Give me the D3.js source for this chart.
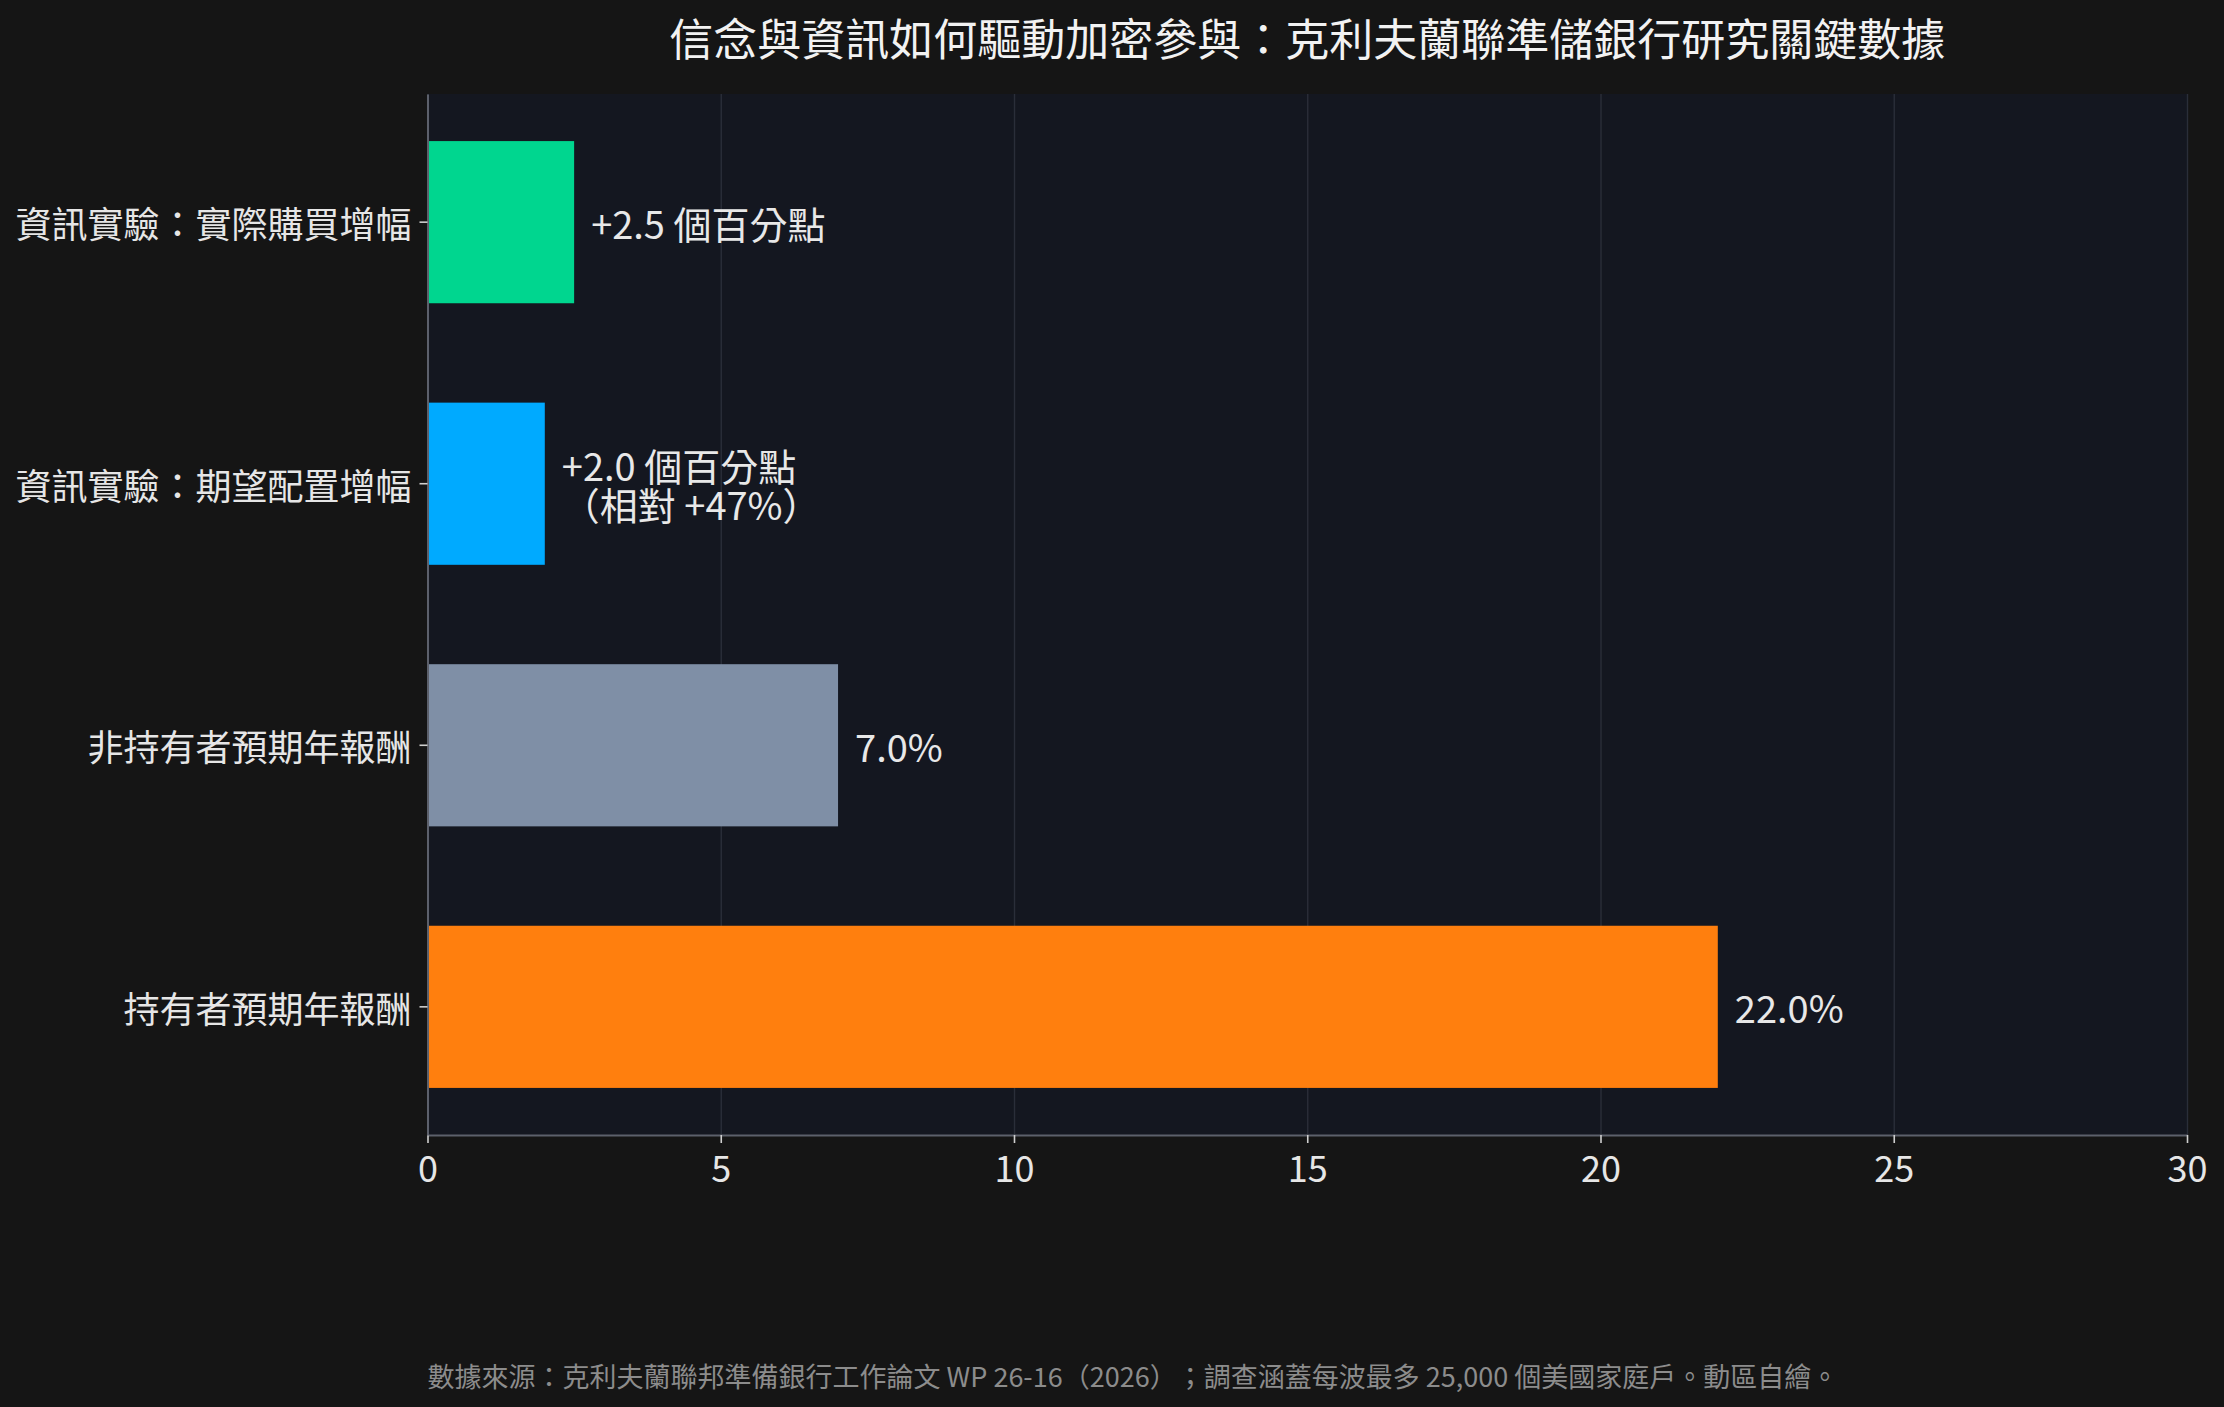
<!DOCTYPE html>
<html>
<head>
<meta charset="utf-8">
<script src="https://cdn.jsdelivr.net/npm/d3@7"></script>
<style>
  html, body { margin: 0; padding: 0; background: #151515; }
  svg { display: block; font-family: "Noto Sans CJK TC", "Noto Sans", sans-serif; text-spacing-trim: space-all; }
</style>
</head>
<body>
<div id="chart"></div>
<script>
// Chart data
const categories = [
    "資訊實驗：實際購買增幅",
    "資訊實驗：期望配置增幅",
    "非持有者預期年報酬",
    "持有者預期年報酬"
];
const values = [2.5, 2.0, 7.0, 22.0];
const valueLabels = [
    ["+2.5 個百分點"],
    ["+2.0 個百分點", "（相對 +47%）"],
    ["7.0%"],
    ["22.0%"]
];
const barColors = ["#00D68F", "#00AAFF", "#7F8FA6", "#FF7F0E"];
const xTicks = [0, 5, 10, 15, 20, 25, 30];

const title = "信念與資訊如何驅動加密參與：克利夫蘭聯準儲銀行研究關鍵數據";
const footer = "數據來源：克利夫蘭聯邦準備銀行工作論文 WP 26-16（2026）；調查涵蓋每波最多 25,000 個美國家庭戶。動區自繪。";

// Dimensions
const width = 2224, height = 1407;
const margin = { top: 94, right: 37, bottom: 272, left: 427.5 };
const innerW = width - margin.left - margin.right;
const innerH = height - margin.top - margin.bottom;

const svg = d3.select("#chart").append("svg")
    .attr("width", width)
    .attr("height", height);

svg.append("rect")
    .attr("width", width)
    .attr("height", height)
    .attr("fill", "#151515");

const g = svg.append("g")
    .attr("transform", `translate(${margin.left},${margin.top})`);

// Scales
const x = d3.scaleLinear().domain([0, 30]).range([0, innerW]);
const y = d3.scaleBand()
    .domain(categories)
    .range([0, innerH])
    .paddingInner(0.38)
    .paddingOuter(0.18);

// Plot background
g.append("rect")
    .attr("width", innerW)
    .attr("height", innerH)
    .attr("fill", "#141720");

// Vertical grid lines
g.append("g")
    .selectAll("line")
    .data(xTicks)
    .enter().append("line")
    .attr("x1", d => x(d) + 0.5)
    .attr("x2", d => x(d) + 0.5)
    .attr("y1", 0)
    .attr("y2", innerH)
    .attr("stroke", "#2a2e39")
    .attr("stroke-width", 1.4);

// Bars
g.append("g")
    .selectAll("rect")
    .data(values)
    .enter().append("rect")
    .attr("x", x(0))
    .attr("y", (d, i) => y(categories[i]))
    .attr("width", d => x(d) - x(0))
    .attr("height", y.bandwidth())
    .attr("fill", (d, i) => barColors[i]);

// Value labels (left aligned, multi-line centred on the bar)
const lineGap = 39;
const lbl = g.append("g")
    .selectAll("text")
    .data(values)
    .enter().append("text")
    .attr("x", d => x(d) + 17)
    .attr("y", (d, i) => y(categories[i]) + y.bandwidth() / 2)
    .attr("fill", "#e8e8e8")
    .style("font-size", "38px");

lbl.each(function(d, i) {
    const lines = valueLabels[i];
    const cy = y(categories[i]) + y.bandwidth() / 2;
    const t = d3.select(this);
    lines.forEach((s, k) => {
        t.append("tspan")
            .attr("x", x(d) + 17)
            .attr("y", cy + (k - (lines.length - 1) / 2) * lineGap)
            .attr("dominant-baseline", "central")
            .text(s);
    });
});

// X axis
const xAxis = g.append("g")
    .attr("transform", `translate(0,${innerH})`)
    .call(d3.axisBottom(x).tickValues(xTicks).tickSize(8).tickSizeOuter(0)
        .tickPadding(13).tickFormat(d3.format("d")));
xAxis.select(".domain").attr("stroke", "#5c606b").attr("stroke-width", 2);
xAxis.selectAll(".tick line").attr("stroke", "#cfcfcf").attr("stroke-width", 1.6);
xAxis.selectAll(".tick text")
    .attr("fill", "#e6e6e6")
    .style("font-size", "36px")
    .style("font-family", "'Noto Sans CJK TC', sans-serif");

// Y axis
const yAxis = g.append("g")
    .call(d3.axisLeft(y).tickSize(8).tickSizeOuter(0).tickPadding(8));
yAxis.select(".domain").attr("stroke", "#5c606b").attr("stroke-width", 2);
yAxis.selectAll(".tick line").attr("stroke", "#cfcfcf").attr("stroke-width", 1.6);
yAxis.selectAll(".tick text")
    .attr("fill", "#e6e6e6")
    .attr("dy", null)
    .attr("dominant-baseline", "central")
    .style("font-size", "36px")
    .style("font-family", "'Noto Sans CJK TC', sans-serif");

// Title
svg.append("text")
    .attr("x", margin.left + innerW / 2)
    .attr("y", 37)
    .attr("text-anchor", "middle")
    .attr("dominant-baseline", "central")
    .attr("fill", "#f2f2f2")
    .style("font-size", "44px")
    .text(title);

// Footer note
svg.append("text")
    .attr("x", margin.left)
    .attr("y", 1375)
    .attr("dominant-baseline", "central")
    .attr("fill", "#8c8c8c")
    .style("font-size", "27px")
    .text(footer);
</script>
</body>
</html>
